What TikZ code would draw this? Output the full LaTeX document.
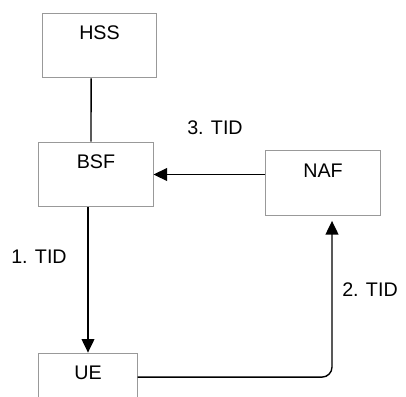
\documentclass[tikz,border=0pt]{standalone}
\usepackage{fontspec}
\setmainfont{Liberation Sans}
\usetikzlibrary{arrows.meta}

\begin{document}
\begin{tikzpicture}[x=0.025cm,y=-0.025cm,
  font=\fontsize{14}{16}\selectfont,
  box/.style={draw=black!40, line width=0.7pt, inner sep=0pt, text height=0.66cm, text depth=0.96cm},
  arr/.style={line width=1pt, -{Triangle[length=0.34cm,width=0.32cm]}}]

\useasboundingbox (0,0) rectangle (406,396);
\clip (0,0) rectangle (406,396);

\node[box, minimum width=2.825cm] (HSS) at (99.5,45.5) {HSS};
\node[box, minimum width=2.85cm] (BSF) at (96,174.5) {BSF};
\node[box, minimum width=2.85cm] (NAF) at (323,183) {NAF};
\node[box, minimum width=2.45cm] (UE) at (88,385.5) {UE};

\draw[line width=1pt] ([xshift=-0.21cm]HSS.south) -- ([xshift=-0.125cm]BSF.north);
\draw[arr] (BSF.south -| UE.north) -- (UE.north);
\node (t1) at (39,257) {1. TID};
\draw[arr, rounded corners=0.25cm] ([yshift=0.21cm]UE.east) -| ([xshift=0.225cm,yshift=-0.125cm]NAF.south);
\node (t2) at (370,290) {2. TID};
\draw[arr] (NAF.west |- BSF.east) -- (BSF.east);
\node (t3) at (215,128) {3. TID};
\end{tikzpicture}
\end{document}
